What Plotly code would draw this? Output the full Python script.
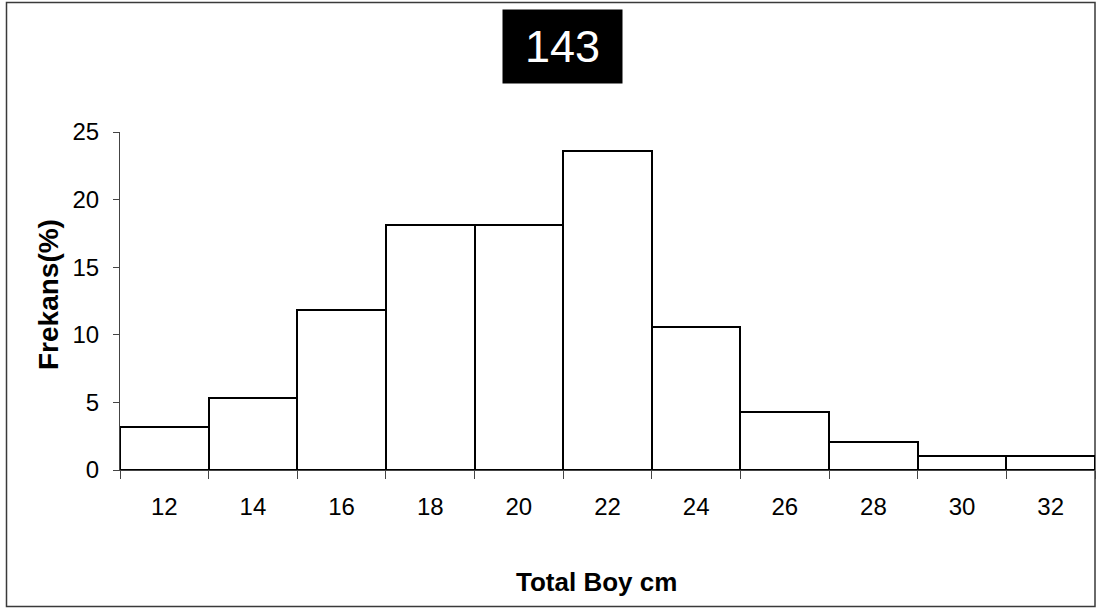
import plotly.graph_objects as go

# Length classes (cm) and their frequencies (%)
length_classes = ["12", "14", "16", "18", "20", "22", "24", "26", "28", "30", "32"]
frequency_pct = [3.2, 5.3, 11.8, 18.1, 18.1, 23.6, 10.6, 4.3, 2.1, 1.0, 1.0]
y_ticks = [0, 5, 10, 15, 20, 25]
sample_label = "143"

FONT = "Liberation Sans, Arial, sans-serif"

fig = go.Figure(
    go.Bar(
        x=length_classes,
        y=frequency_pct,
        width=1,
        marker=dict(color="white", line=dict(color="black", width=2)),
        hoverinfo="x+y",
    )
)

# plot area spans x 120..1095 px, y 132..470 px
L, R, T, B = 120, 1, 132, 138
W, H = 1096, 608
pw, ph = W - L - R, H - T - B


def px(x):
    return (x - L) / pw


def py(y):
    return (H - B - y) / ph


fig.update_layout(
    width=W,
    height=H,
    margin=dict(l=L, r=R, t=T, b=B, pad=0),
    paper_bgcolor="white",
    plot_bgcolor="white",
    bargap=0,
    showlegend=False,
    font=dict(family=FONT, color="black"),
    xaxis=dict(
        type="category",
        range=[-0.5, len(length_classes) - 0.5],
        tickson="boundaries",
        ticks="outside",
        ticklen=8,
        tickwidth=1,
        tickcolor="#444",
        showline=True,
        linecolor="#444",
        linewidth=1,
        showgrid=False,
        zeroline=False,
        tickfont=dict(size=24, family=FONT, color="black"),
        ticklabelstandoff=15,
    ),
    yaxis=dict(
        range=[0, 25],
        tickvals=y_ticks,
        ticks="outside",
        ticklen=6,
        tickwidth=1,
        tickcolor="#444",
        showline=True,
        linecolor="#444",
        linewidth=1,
        showgrid=False,
        zeroline=False,
        tickfont=dict(size=24, family=FONT, color="black"),
        ticklabelstandoff=9,
    ),
    shapes=[
        dict(
            type="rect",
            xref="paper",
            yref="paper",
            x0=px(6.5),
            x1=px(1095),
            y0=py(606.5),
            y1=py(2.5),
            line=dict(color="#3a3a3a", width=1.5),
            fillcolor="rgba(0,0,0,0)",
            layer="below",
        )
    ],
    annotations=[
        dict(
            text=sample_label,
            xref="paper",
            yref="paper",
            x=px(562),
            y=py(47),
            xanchor="center",
            yanchor="middle",
            showarrow=False,
            bgcolor="black",
            width=119,
            height=73,
            borderpad=0,
            font=dict(size=45, color="white", family=FONT),
        ),
        dict(
            text="<b>Total Boy cm</b>",
            xref="paper",
            yref="paper",
            x=px(596),
            y=py(582),
            xanchor="center",
            yanchor="middle",
            showarrow=False,
            font=dict(size=26, color="black", family=FONT),
        ),
        dict(
            text="<b>Frekans(%)</b>",
            xref="paper",
            yref="paper",
            x=px(48),
            y=py(295),
            xanchor="center",
            yanchor="middle",
            textangle=-90,
            showarrow=False,
            font=dict(size=28, color="black", family=FONT),
        ),
    ],
)

fig.write_html("out.html")
